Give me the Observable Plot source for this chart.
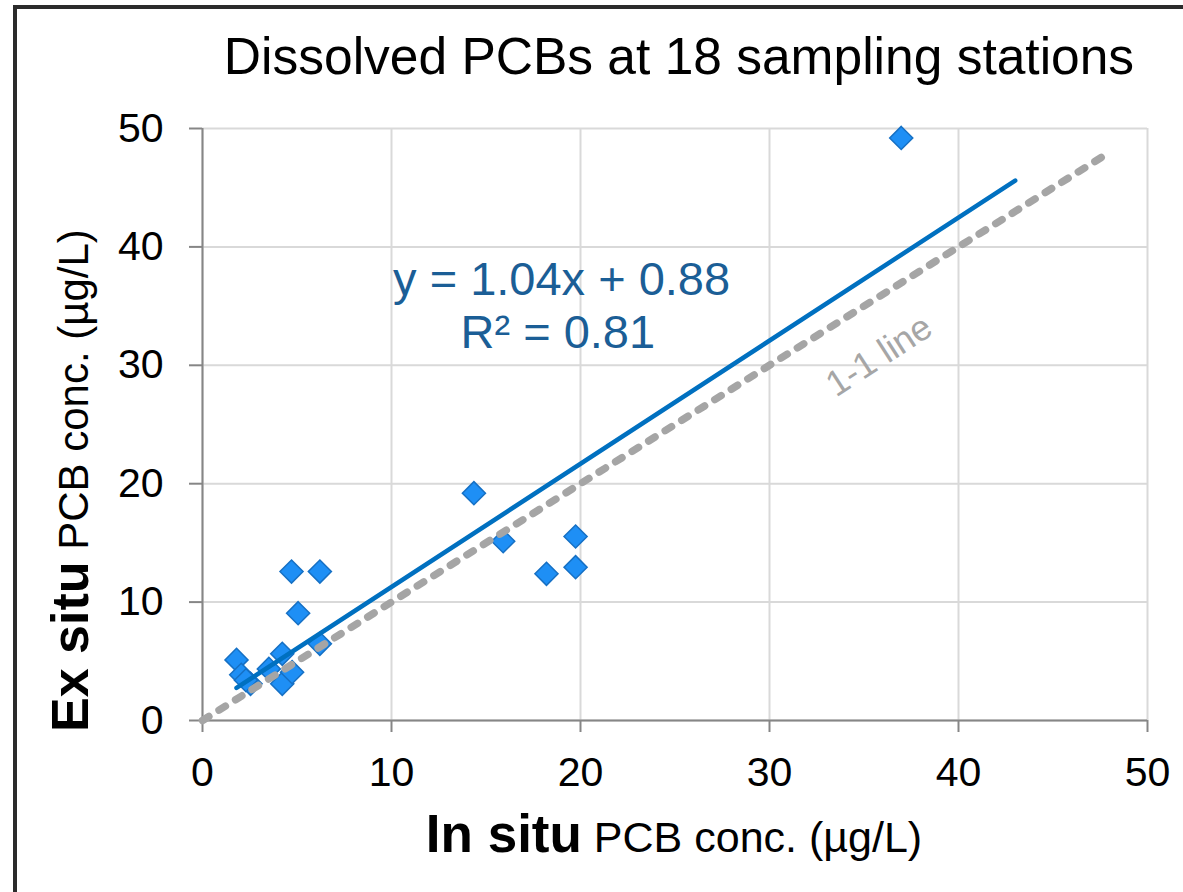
<!DOCTYPE html>
<html><head><meta charset="utf-8">
<script src="https://cdn.jsdelivr.net/npm/d3@7"></script>
<script src="https://cdn.jsdelivr.net/npm/@observablehq/plot@0.6"></script>
<style>
body{margin:0;overflow:hidden;background:#fff;width:1183px;height:892px;position:relative;font-family:"Liberation Sans",Arial,sans-serif}
#frame{position:absolute;left:13px;top:5px;width:1300px;height:1000px;border:4px solid #2b2b2b;box-sizing:border-box}
#chart{position:absolute;left:0;top:0}
</style></head>
<body>
<div id="frame"></div>
<div id="chart"></div>
<script>
// Data
const inSitu = [1.8, 2.05, 2.54, 2.3, 3.51, 4.22, 4.22, 4.74, 4.71, 5.06, 6.21, 6.21, 14.36, 15.91, 18.2, 19.74, 19.74, 36.97];
const exSitu = [5.12, 3.86, 3.10, 3.4, 4.36, 5.63, 3.10, 4.08, 12.58, 9.06, 12.58, 6.48, 19.2, 15.14, 12.39, 15.54, 12.95, 49.2];
const xTicks = [0, 10, 20, 30, 40, 50];
const yTicks = [0, 10, 20, 30, 40, 50];
const trendSlope = 1.04;
const trendIntercept = 0.88;
const trendRange = [1.8, 43];
const oneToOneRange = [0, 48];
const titleText = "Dissolved PCBs at 18 sampling stations";
const eqLine1 = "y = 1.04x + 0.88";
const eqLine2 = "R² = 0.81";
const oneLineLabel = "1-1 line";

const points = inSitu.map((x, i) => ({x, y: exSitu[i]}));
const trend = trendRange.map(x => ({x, y: trendSlope * x + trendIntercept}));
const oneToOne = oneToOneRange.map(v => ({x: v, y: v}));
const font = '"Liberation Sans", Arial, sans-serif';

const chart = Plot.plot({
  width: 1183, height: 892,
  marginLeft: 202, marginRight: 36, marginTop: 128, marginBottom: 172,
  style: {fontFamily: font, background: "transparent", color: "#000"},
  x: {domain: [0, 50]},
  y: {domain: [0, 50]},
  marks: [
    Plot.gridX(xTicks, {stroke: "#d9d9d9", strokeOpacity: 1, strokeWidth: 2}),
    Plot.gridY(yTicks, {stroke: "#d9d9d9", strokeOpacity: 1, strokeWidth: 2}),
    Plot.ruleY([0], {stroke: "#868686", strokeWidth: 2}),
    Plot.ruleX([0], {stroke: "#868686", strokeWidth: 2}),
    Plot.axisX(xTicks, {tickSize: 12, tickPadding: 24, stroke: "#868686", strokeWidth: 2, fill: "#000", fontSize: 41, label: null}),
    Plot.axisY(yTicks, {tickSize: 13, tickPadding: 26, stroke: "#868686", strokeWidth: 2, fill: "#000", fontSize: 41, label: null}),
    Plot.dot(points, {x: "x", y: "y", symbol: "diamond2", r: 10.4, fill: "#1e8ff5", stroke: "#1670c4", strokeWidth: 1.5}),
    Plot.line(trend, {x: "x", y: "y", stroke: "#0070c0", strokeWidth: 4.5}),
    Plot.line(oneToOne, {x: "x", y: "y", stroke: "#a5a5a5", strokeWidth: 7.5, strokeDasharray: "7.5,12"}),
    Plot.text([eqLine1], {x: 19.0, y: 37.25, text: d => d, fontSize: 47, fill: "#1b5e96", textAnchor: "middle"}),
    Plot.text([eqLine2], {x: 18.8, y: 32.77, text: d => d, fontSize: 47, fill: "#1b5e96", textAnchor: "middle"}),
    Plot.text([oneLineLabel], {x: 35.8, y: 30.8, text: d => d, fontSize: 36, fill: "#a6a6a6", rotate: -33, textAnchor: "middle"})
  ]
});
document.getElementById("chart").appendChild(chart);

const svg = d3.select(chart);
svg.append("text").attr("x", 679).attr("y", 74).attr("text-anchor", "middle")
  .attr("font-family", font).attr("font-size", 51.5).attr("fill", "#000").text(titleText);

const xt = svg.append("text").attr("x", 674).attr("y", 852).attr("text-anchor", "middle")
  .attr("font-family", font).attr("fill", "#000");
xt.append("tspan").attr("font-weight", "bold").attr("font-size", 53).text("In situ");
xt.append("tspan").attr("font-size", 43).text(" PCB conc. (µg/L)");

const yt = svg.append("text").attr("transform", "translate(88,732) rotate(-90)").attr("text-anchor", "start")
  .attr("font-family", font).attr("fill", "#000");
yt.append("tspan").attr("font-weight", "bold").attr("font-size", 52).text("Ex situ");
yt.append("tspan").attr("font-size", 42).text(" PCB conc. (µg/L)");
</script>
</body></html>
